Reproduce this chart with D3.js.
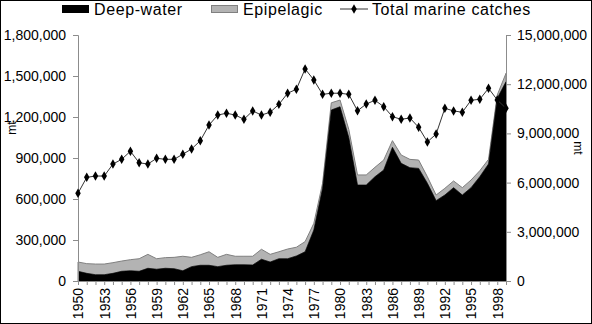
<!DOCTYPE html>
<html><head><meta charset="utf-8">
<script src="https://cdn.jsdelivr.net/npm/d3@7"></script>
<style>
html,body{margin:0;padding:0;background:#fff;}
svg{display:block;font-family:Arial,"Liberation Sans",sans-serif;}
</style></head>
<body>
<svg id="c" width="592" height="324"></svg>
<script>
const years = d3.range(1950, 2000);
const yearTickLabels = [1950,1953,1956,1959,1962,1965,1968,1971,1974,1977,1980,1983,1986,1989,1992,1995,1998];
// metric tonnes (left axis)
const deepWater = [71000,56000,46000,46000,56000,71000,75000,71000,93000,86000,
  93000,90000,75000,105000,115000,115000,105000,115000,119000,119000,
  117000,159000,139000,163000,163000,183000,214000,373000,678000,1251000,
  1275000,1050000,702000,702000,763000,812000,978000,861000,829000,824000,
  715000,588000,629000,683000,629000,683000,763000,856000,1337000,1458000];
const epipelagic = [68000,71000,78000,78000,78000,75000,81000,92000,102000,77000,
  78000,83000,106000,68000,77000,99000,68000,80000,62000,62000,
  64000,73000,56000,51000,71000,64000,74000,49000,37000,53000,
  49000,60000,74000,74000,69000,73000,49000,61000,61000,61000,
  48000,41000,49000,49000,54000,56000,44000,34000,24000,62000];
// right axis
const totalMarine = [5350000,6320000,6400000,6400000,7130000,7420000,7910000,7210000,7130000,7480000,
  7420000,7420000,7730000,8050000,8550000,9510000,10120000,10230000,10120000,9860000,
  10370000,10120000,10290000,10770000,11450000,11690000,12930000,12260000,11380000,11450000,
  11450000,11380000,10380000,10790000,11020000,10630000,10020000,9860000,9940000,9370000,
  8480000,8960000,10530000,10370000,10290000,11020000,11080000,11750000,11040000,10530000];
const leftTicks = [0,300000,600000,900000,1200000,1500000,1800000];
const rightTicks = [0,3000000,6000000,9000000,12000000,15000000];
const seriesNames = ["Deep-water","Epipelagic","Total marine catches"];

const svg = d3.select("#c");
const L = 78, R = 506, T = 35, B = 281;
const x = d3.scaleLinear().domain([1950,1999]).range([L,R]);
const yL = d3.scaleLinear().domain([0,1800000]).range([B,T]);
const yR = d3.scaleLinear().domain([0,15000000]).range([B,T]);
const fmt = d3.format(",");

// frame
svg.append("rect").attr("x",0.5).attr("y",0.5).attr("width",591).attr("height",323)
  .attr("fill","none").attr("stroke","#000");

const rows = years.map((yr,i)=>({year:yr, deep:deepWater[i], epi:epipelagic[i]}));
const stack = d3.stack().keys(["deep","epi"])(rows);
const area = d3.area().x((d,i)=>x(years[i])).y0(d=>yL(d[0])).y1(d=>yL(d[1]));
svg.append("path").datum(stack[1]).attr("d",area).attr("fill","#b3b3b3")
  .attr("stroke","#808080").attr("stroke-width",1);
svg.append("path").datum(stack[0]).attr("d",area).attr("fill","#000").attr("stroke","#000").attr("stroke-width",0.5);

// axes
const axisCol = "#8c8c8c";
const gL = svg.append("g").attr("transform",`translate(${L},0)`)
  .call(d3.axisLeft(yL).tickValues(leftTicks).tickFormat(fmt).tickSize(5).tickPadding(7));
const gR = svg.append("g").attr("transform",`translate(${R},0)`)
  .call(d3.axisRight(yR).tickValues(rightTicks).tickFormat(fmt).tickSize(5).tickPadding(6));
const gB = svg.append("g").attr("transform",`translate(0,${B})`)
  .call(d3.axisBottom(x).tickValues(years).tickFormat(d=>yearTickLabels.includes(d)?d:"").tickSize(4));
[gL,gR,gB].forEach(g=>{
  g.select(".domain").attr("stroke",axisCol);
  g.selectAll(".tick line").attr("stroke",axisCol);
  g.selectAll("text").attr("fill","#000").attr("font-size",14).attr("font-family","Arial,'Liberation Sans',sans-serif");
});
gB.selectAll("text").attr("transform","rotate(-90)").attr("text-anchor","end")
  .attr("x",-7).attr("y",0).attr("dy","0.35em");

// line
const line = d3.line().x((d,i)=>x(years[i])).y(d=>yR(d));
svg.append("path").datum(totalMarine).attr("d",line).attr("fill","none")
  .attr("stroke","#333").attr("stroke-width",1);
svg.append("g").selectAll("path").data(totalMarine).join("path")
  .attr("transform",(d,i)=>`translate(${x(years[i])},${yR(d)})`)
  .attr("d",d3.symbol(d3.symbolDiamond,26)).attr("fill","#000");

// mt labels
svg.append("text").attr("transform","translate(16,128) rotate(-90)").attr("text-anchor","middle")
  .attr("font-size",12).text("mt");
svg.append("text").attr("transform","translate(574,148) rotate(90)").attr("text-anchor","middle")
  .attr("font-size",12).text("mt");

// legend
const lg = svg.append("g").attr("font-size",16).attr("letter-spacing",0.6);
lg.append("rect").attr("x",62).attr("y",5).attr("width",27).attr("height",8).attr("fill","#000");
lg.append("text").attr("x",94).attr("y",15).text(seriesNames[0]);
lg.append("rect").attr("x",211.5).attr("y",5.5).attr("width",26).attr("height",7).attr("fill","#b3b3b3").attr("stroke","#808080");
lg.append("text").attr("x",243).attr("y",15).text(seriesNames[1]);
lg.append("line").attr("x1",340).attr("x2",368).attr("y1",9).attr("y2",9).attr("stroke","#333");
lg.append("path").attr("transform","translate(354,9)").attr("d",d3.symbol(d3.symbolDiamond,26)).attr("fill","#000");
lg.append("text").attr("x",372).attr("y",15).text(seriesNames[2]);
</script>
</body></html>
